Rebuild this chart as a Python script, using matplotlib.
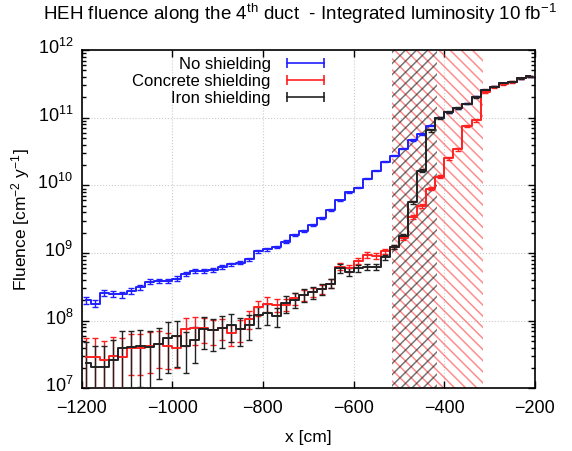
import numpy as np
import matplotlib
matplotlib.use("Agg")
import matplotlib.pyplot as plt
import matplotlib.transforms as mtransforms
from matplotlib.lines import Line2D

plt.rcParams['font.family'] = ['Liberation Sans', 'DejaVu Sans']
plt.rcParams['mathtext.default'] = 'regular'
plt.rcParams['hatch.linewidth'] = 1.1

# ---------------- data ----------------
x_centers = [-1190, -1170, -1150, -1130, -1110, -1090, -1070, -1050, -1030, -1010,
             -990, -970, -950, -930, -910, -890, -870, -850, -830, -810,
             -790, -770, -750, -730, -710, -690, -670, -650, -630, -610,
             -590, -570, -550, -530, -510, -490, -470, -450, -430, -410,
             -390, -370, -350, -330, -310, -290, -270, -250, -230, -210]

no_shield = [2.0e8, 1.8e8, 2.6e8, 2.5e8, 2.45e8, 2.75e8, 3.15e8, 3.8e8, 3.9e8, 3.9e8,
             4.2e8, 4.9e8, 5.5e8, 5.5e8, 5.6e8, 6.3e8, 6.8e8, 7.2e8, 8.1e8, 1.07e9,
             1.15e9, 1.23e9, 1.48e9, 1.86e9, 2.14e9, 2.57e9, 3.3e9, 4.3e9, 6.0e9, 7.9e9,
             9.3e9, 1.26e10, 1.66e10, 2.24e10, 2.75e10, 3.47e10, 4.68e10, 5.75e10, 7.6e10, 1.0e11,
             1.2e11, 1.38e11, 1.62e11, 2.04e11, 2.57e11, 2.88e11, 3.24e11, 3.39e11, 3.8e11, 4.07e11]
no_shield_rel = [0.12, 0.12, 0.10, 0.10, 0.10, 0.10, 0.09, 0.09, 0.08, 0.08,
                 0.08, 0.07, 0.07, 0.07, 0.06, 0.06, 0.06, 0.05, 0.05, 0.05,
                 0.05, 0.04, 0.04, 0.04, 0.03, 0.03, 0.03, 0.03, 0.03, 0.02,
                 0.02, 0.02, 0.02, 0.02, 0.02, 0.02, 0.02, 0.02, 0.02, 0.02,
                 0.01, 0.01, 0.01, 0.01, 0.01, 0.01, 0.01, 0.01, 0.01, 0.01]

concrete = [2.9e7, 2.9e7, 2.6e7, 3.0e7, 2.9e7, 4.0e7, 4.0e7, 4.2e7, 4.5e7, 4.3e7,
            4.0e7, 7.6e7, 7.9e7, 7.9e7, 7.4e7, 7.9e7, 6.5e7, 7.6e7, 1.07e8, 1.58e8,
            1.78e8, 1.74e8, 1.74e8, 2.14e8, 2.4e8, 2.63e8, 2.95e8, 3.55e8, 6.3e8, 6.0e8,
            7.6e8, 9.5e8, 9.1e8, 1.07e9, 1.23e9, 1.7e9, 3.4e9, 5.0e9, 8.9e9, 1.35e10,
            2.5e10, 3.4e10, 7.6e10, 9.1e10, 2.4e11, 2.88e11, 3.16e11, 3.39e11, 3.8e11, 4.07e11]
concrete_rel = [0.95, 0.95, 0.95, 0.90, 0.90, 0.60, 0.60, 0.60, 0.55, 0.55,
                0.50, 0.45, 0.45, 0.40, 0.40, 0.35, 0.35, 0.35, 0.30, 0.25,
                0.25, 0.22, 0.20, 0.20, 0.18, 0.15, 0.15, 0.15, 0.12, 0.12,
                0.10, 0.10, 0.10, 0.08, 0.08, 0.07, 0.06, 0.06, 0.05, 0.05,
                0.05, 0.05, 0.04, 0.04, 0.04, 0.03, 0.03, 0.03, 0.03, 0.03]

iron = [2.4e7, 2.1e7, 2.1e7, 2.6e7, 4.0e7, 4.1e7, 4.2e7, 4.1e7, 4.6e7, 5.6e7,
        6.0e7, 4.3e7, 5.2e7, 7.6e7, 7.2e7, 7.8e7, 8.7e7, 7.6e7, 8.7e7, 1.2e8,
        1.32e8, 1.17e8, 1.82e8, 2.04e8, 2.4e8, 2.63e8, 2.95e8, 3.55e8, 6.0e8, 5.25e8,
        6.0e8, 6.3e8, 6.3e8, 8.7e8, 1.23e9, 1.78e9, 5.6e9, 1.66e10, 6.5e10, 1.0e11,
        1.2e11, 1.38e11, 1.62e11, 2.04e11, 2.57e11, 2.88e11, 3.24e11, 3.39e11, 3.8e11, 4.07e11]
iron_rel = [1.0, 1.0, 1.0, 1.0, 0.75, 0.75, 0.75, 0.75, 0.70, 0.70,
            0.65, 0.60, 0.55, 0.50, 0.50, 0.50, 0.45, 0.45, 0.40, 0.35,
            0.35, 0.30, 0.28, 0.25, 0.22, 0.20, 0.18, 0.15, 0.14, 0.13,
            0.12, 0.11, 0.10, 0.09, 0.08, 0.07, 0.06, 0.05, 0.05, 0.04,
            0.03, 0.03, 0.03, 0.03, 0.03, 0.02, 0.02, 0.02, 0.02, 0.02]

labels = ["No shielding", "Concrete shielding", "Iron shielding"]
colors = ["#1f1fff", "#ff2020", "#222222"]

concrete_region = [-515, -315]
iron_region = [-515, -415]

x_ticks = [-1200, -1000, -800, -600, -400, -200]

# ---------------- figure ----------------
fig = plt.figure(figsize=(5.72, 4.51), dpi=100)
ax = fig.add_axes([0.1425, 0.1386, 0.9353 - 0.1425, 0.8891 - 0.1386])
ax.set_yscale('log')
ax.set_xlim(-1200, -200)
ax.set_ylim(1e7, 1e12)

ax.axvspan(concrete_region[0], concrete_region[1], facecolor='none',
           edgecolor=(1.0, 0.25, 0.25, 0.6), hatch='\\\\\\', lw=0, zorder=1)
ax.axvspan(iron_region[0], iron_region[1], facecolor='none',
           edgecolor=(0.1, 0.1, 0.1, 0.6), hatch='///', lw=0, zorder=1)

x = np.array(x_centers, dtype=float)
series = [(no_shield, no_shield_rel), (concrete, concrete_rel), (iron, iron_rel)]
for (vals, rel), c in zip(series, colors):
    v = np.array(vals)
    e = v * np.array(rel)
    ax.errorbar(x, v, yerr=e, fmt='none', ecolor=c, elinewidth=1.0,
                capsize=2.5, capthick=1.0, zorder=3)
    ax.plot(x, v, drawstyle='steps-mid', color=c, lw=1.4, zorder=4)

ax.set_xticks(x_ticks)
ax.grid(True, which='major', linestyle=':', color='#cccccc', linewidth=0.8)
ax.set_axisbelow(True)
ax.tick_params(which='both', direction='in', top=True, right=True,
               labelsize=13, width=1)
ax.tick_params(which='major', length=5, pad=6)
ax.tick_params(axis='x', which='major', pad=8)
ax.tick_params(which='minor', length=3)
ax.tick_params(axis='x', which='minor', bottom=False, top=False)
for s in ax.spines.values():
    s.set_linewidth(1.2)

# lift y tick labels slightly (gnuplot-like placement)
offset = mtransforms.ScaledTranslation(0, 3 / 72, fig.dpi_scale_trans)
for lbl in ax.get_yticklabels():
    lbl.set_transform(lbl.get_transform() + offset)

ax.set_xlabel("x [cm]", fontsize=12.5, labelpad=10)
ax.set_ylabel("Fluence [cm$^{-2}$ y$^{-1}$]", fontsize=12.5, labelpad=4)

fig.text(0.525, 0.968, "HEH fluence along the 4$^{th}$ duct  - Integrated luminosity 10 fb$^{-1}$",
         ha='center', va='center', fontsize=13.5)

handles = [Line2D([], [], color=c, lw=1.2, marker='|', markersize=7, mew=1.2) for c in colors]
leg = ax.legend(handles, labels, loc='upper right', bbox_to_anchor=(0.5605, 1.0),
                frameon=False, markerfirst=False, numpoints=2, handlelength=2.8,
                handletextpad=0.7, labelspacing=0.12, borderaxespad=0, fontsize=12)
for col in leg._legend_handle_box.get_children():
    col.align = 'right'

fig.savefig("out.png", dpi=100)
